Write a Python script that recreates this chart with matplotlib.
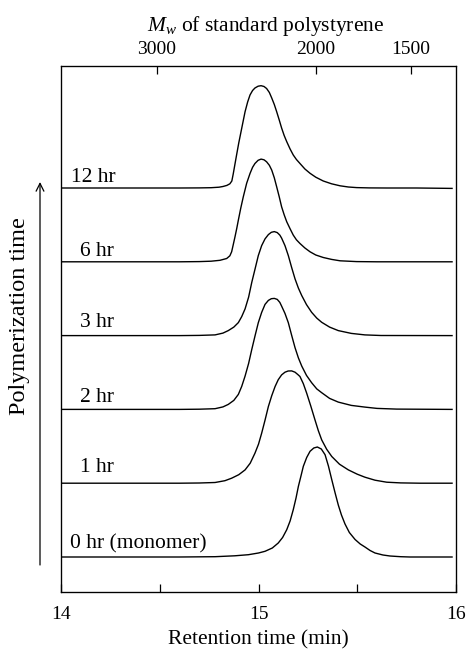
import matplotlib
matplotlib.use("Agg")
import matplotlib.pyplot as plt

plt.rcParams['font.family'] = ['Liberation Serif', 'DejaVu Serif']
plt.rcParams['mathtext.fontset'] = 'custom'
plt.rcParams['mathtext.rm'] = 'Liberation Serif'
plt.rcParams['mathtext.it'] = 'Liberation Serif:italic'

# traces (retention time in min, signal in a.u.)
labels = ["0 hr (monomer)", "1 hr", "2 hr", "3 hr", "6 hr", "12 hr"]

t0 = [14.00, 14.60, 14.78, 14.88, 14.949, 15.00, 15.033, 15.070, 15.100, 15.122, 15.143, 15.160,
      15.176, 15.190, 15.202, 15.215, 15.227, 15.244, 15.261, 15.280, 15.298, 15.318, 15.337,
      15.354, 15.371, 15.388, 15.404, 15.420, 15.438, 15.460, 15.489, 15.515, 15.539, 15.565,
      15.590, 15.630, 15.666, 15.72, 15.767, 15.98]
h0 = [0, 0, 0.3, 1.2, 2.3, 4, 5.7, 9, 14, 19.5, 27.3, 36,
      47.3, 59, 70.7, 81, 90.7, 99.5, 105.7, 109, 110, 108, 102.3,
      91, 77.3, 64, 52, 42, 33, 24.5, 17.5, 13, 10, 6.5,
      4, 2, 1, 0.3, 0, 0]

t1 = [14.00, 14.60, 14.70, 14.78, 14.83, 14.864, 14.90, 14.932, 14.958, 14.982, 15.000, 15.016,
      15.033, 15.050, 15.067, 15.084, 15.100, 15.117, 15.134, 15.150, 15.168, 15.185, 15.200,
      15.210, 15.227, 15.244, 15.265, 15.286, 15.303, 15.320, 15.345, 15.371, 15.410, 15.455,
      15.50, 15.539, 15.59, 15.649, 15.72, 15.818, 15.98]
h1 = [0, 0, 0.2, 0.7, 2.5, 5, 8.5, 13.3, 20, 30, 39, 50,
      63, 76.7, 87.5, 96.7, 103.5, 108.3, 111, 112.2, 112.3, 111, 108.5,
      106.7, 99.5, 90, 77, 63.3, 52.5, 43.3, 34, 26.7, 19, 13.3,
      9, 6, 3, 1, 0.3, 0, 0]

t2 = [14.00, 14.60, 14.70, 14.78, 14.82, 14.847, 14.875, 14.898, 14.915, 14.932, 14.950, 14.966,
      14.983, 14.999, 15.016, 15.033, 15.050, 15.065, 15.080, 15.095, 15.108, 15.117, 15.134,
      15.151, 15.168, 15.185, 15.202, 15.219, 15.243, 15.269, 15.295, 15.320, 15.360, 15.404,
      15.47, 15.539, 15.60, 15.70, 15.98]
h2 = [0, 0, 0.2, 0.7, 2.5, 5, 9, 15, 23, 33.3, 46, 60,
      74, 86.7, 97, 105, 109, 110.7, 111, 110, 107, 103.3, 96,
      86.7, 74, 61.7, 51.5, 43.3, 34, 26.7, 20.5, 16.7, 11, 7.3,
      4, 2.3, 1, 0.3, 0]

t3 = [14.00, 14.60, 14.70, 14.78, 14.82, 14.847, 14.875, 14.898, 14.915, 14.932, 14.950, 14.966,
      14.983, 14.999, 15.016, 15.033, 15.050, 15.065, 15.080, 15.095, 15.108, 15.117, 15.134,
      15.151, 15.168, 15.185, 15.202, 15.219, 15.243, 15.269, 15.295, 15.320, 15.360, 15.404,
      15.47, 15.539, 15.62, 15.98]
h3 = [0, 0, 0.2, 0.7, 2.5, 5, 8.5, 13, 19, 26.7, 38.5, 53.3,
      67, 80, 90, 96.7, 101, 103.3, 104, 103, 100.5, 97.5, 90,
      80, 68, 56.7, 47.5, 40, 31, 23.3, 17.5, 13.3, 8.5, 5,
      2.2, 0.7, 0.1, 0]

t6 = [14.00, 14.60, 14.70, 14.76, 14.805, 14.839, 14.855, 14.864, 14.872, 14.881, 14.890, 14.898,
      14.910, 14.923, 14.940, 14.957, 14.970, 14.982, 14.998, 15.013, 15.028, 15.041, 15.055,
      15.067, 15.080, 15.092, 15.105, 15.117, 15.130, 15.143, 15.160, 15.176, 15.192, 15.210,
      15.235, 15.261, 15.290, 15.328, 15.370, 15.413, 15.497, 15.60, 15.98]
h6 = [0, 0, 0.2, 0.6, 1.5, 3.3, 6, 10, 17, 25, 33.5, 41.7,
      53.5, 65, 78.5, 88.3, 94.5, 98.3, 101.5, 102.7, 102, 100, 96.5,
      91.7, 84, 75, 65, 55, 47, 40, 33, 26.7, 22, 18.3,
      13.8, 10, 6.8, 4.3, 2.4, 1, 0.2, 0, 0]

t12 = [14.00, 14.60, 14.70, 14.76, 14.80, 14.82, 14.84, 14.855, 14.865, 14.872, 14.880, 14.889,
       14.900, 14.915, 14.932, 14.945, 14.957, 14.970, 14.982, 14.998, 15.013, 15.028, 15.041,
       15.055, 15.067, 15.080, 15.092, 15.105, 15.117, 15.130, 15.143, 15.160, 15.176, 15.192,
       15.210, 15.235, 15.261, 15.290, 15.328, 15.370, 15.413, 15.455, 15.497, 15.56, 15.65,
       15.80, 15.98]
h12 = [0, 0, 0.1, 0.3, 0.8, 1.5, 2.6, 4.2, 7, 14, 23, 33,
       45, 59.7, 76.3, 86, 93, 97.5, 100, 101.8, 102.3, 101.5, 99.5,
       95.5, 90, 83.5, 76.3, 68, 60, 52.5, 46.3, 39, 33, 28.5,
       24.5, 19, 14.7, 10.8, 7, 4.2, 2.2, 1, 0.4, 0.1, 0,
       0, -0.4]

times = [t0, t1, t2, t3, t6, t12]
signals = [h0, h1, h2, h3, h6, h12]

# polystyrene calibration
mw_labels = ["3000", "2000", "1500"]
mw_positions = [14.486, 15.29, 15.772]

fig = plt.figure(figsize=(4.68, 6.51), dpi=100)
ax = fig.add_axes([61 / 468, 59 / 651, 395 / 468, 526 / 651])

base = 35
step = 73.8
label_x = [14.046, 14.096, 14.096, 14.096, 14.096, 14.05]
label_dy = [9, 11, 7, 9, 6, 6]

for i, (t, h) in enumerate(zip(times, signals)):
    off = base + i * step
    ax.plot(t, [v + off for v in h], color='black', lw=1.0, solid_joinstyle='round')
    ax.text(label_x[i], off + label_dy[i], labels[i], fontsize=15.5, va='baseline', ha='left')

ax.set_xlim(14, 16)
ax.set_ylim(0, 526)
ax.set_xticks([14, 14.5, 15, 15.5, 16])
ax.set_xticklabels(["14", "", "15", "", "16"])
ax.set_yticks([])
ax.tick_params(axis='x', direction='in', length=6, width=0.9, labelsize=14, pad=10)
for s in ax.spines.values():
    s.set_linewidth(0.9)
ax.set_xlabel("Retention time (min)", fontsize=15.5, labelpad=5)

ax2 = ax.twiny()
ax2.set_xlim(ax.get_xlim())
ax2.set_xticks(mw_positions)
ax2.set_xticklabels(mw_labels)
ax2.tick_params(axis='x', direction='in', length=6, width=0.9, labelsize=14, pad=6)
ax2.set_xlabel("$M_w$ of standard polystyrene", fontsize=15.5, labelpad=7)
ax2.xaxis.label.set_x(0.5 + 7 / 395)

# polymerization-time arrow on the left
ax.annotate("", xy=(40 / 468, 1 - 182 / 651), xytext=(40 / 468, 1 - 565 / 651),
            xycoords='figure fraction', textcoords='figure fraction',
            arrowprops=dict(arrowstyle='->', lw=0.9, color='black',
                            mutation_scale=14, shrinkA=0, shrinkB=0))
fig.text(20 / 468, 1 - 316 / 651, "Polymerization time", rotation=90,
         fontsize=17.5, ha='center', va='center')

fig.savefig("out.png", dpi=100)
